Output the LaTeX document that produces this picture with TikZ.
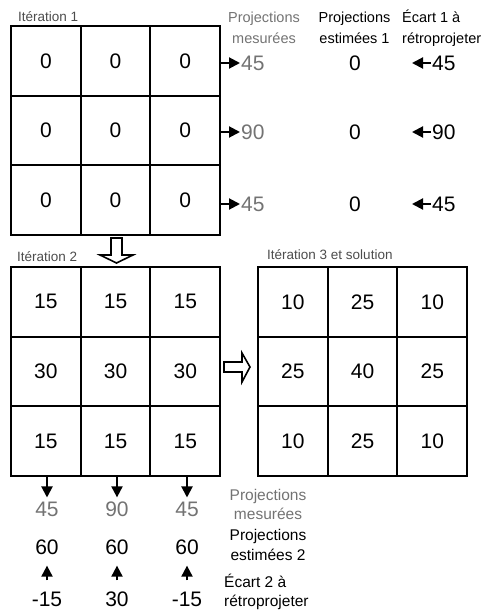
\documentclass[tikz,border=0pt]{standalone}
\usepackage{fontspec}
\setmainfont{Liberation Sans}
\usetikzlibrary{arrows.meta}

\begin{document}
\begin{tikzpicture}[x=1pt, y=-1pt,
  cell/.style={draw, line width=2pt, minimum size=69.7pt, inner sep=0pt, font=\fontsize{21}{24}\selectfont},
  val/.style={inner sep=1pt, font=\fontsize{21}{24}\selectfont},
  meas/.style={val, text=black!55},
  head/.style={inner sep=0pt, align=center, font=\fontsize{14.5}{21}\selectfont},
  headlow/.style={head, font=\fontsize{15.5}{19.5}\selectfont},
  iter/.style={anchor=west, inner sep=0pt, text=black!70, font=\fontsize{13.5}{16}\selectfont},
  tip/.style={-{Triangle[length=11pt,width=11pt]}, line width=2pt},
  bigarrow/.style={draw, line width=1.6pt, fill=white, line join=miter}]
  \useasboundingbox (0,0) rectangle (497,612);

  % iteration 1
  \node[iter] (it1) at (18,17) {Itération 1};
  \foreach \r in {1,2,3}
    \foreach \c in {1,2,3}
      \node[cell] (a\r\c) at (11+69.7*\c-34.85, 26+69.7*\r-34.85) {0};

  \node[head, text=black!55] (hm1) at (264,28) {Projections\\mesurées};
  \node[head] (he1) at (354.5,28) {Projections\\estimées 1};
  \node[head, anchor=west, align=left] (hd1) at (402,28) {Écart 1 à\\rétroprojeter};

  \foreach \v/\y [count=\r] in {45/63, 90/132, 45/204} {
    \node[meas, anchor=west] (m\r) at (240,\y) {\v};
    \node[val] (e\r) at (355,\y) {0};
    \node[val, anchor=west] (d\r) at (431,\y) {\v};
    \draw[tip] (a\r3.east |- m\r) -- (m\r.west);
    \draw[tip] (d\r.west) -- ++(-19,0);
  }

  \draw[bigarrow] (111,238) -- (122,238) -- (122,255) -- (133,255) -- (116.5,263)
    -- (100,255) -- (111,255) -- cycle;

  % iteration 2
  \node[iter] (it2) at (17,257) {Itération 2};
  \foreach \v [count=\r] in {15,30,15}
    \foreach \c in {1,2,3}
      \node[cell] (b\r\c) at (11+69.7*\c-34.85, 267+69.7*\r-34.85) {\v};

  \foreach \m/\e/\d/\x [count=\c] in {45/60/-15/47, 90/60/30/117, 45/60/-15/187} {
    \node[meas] (n\c) at (\x,509) {\m};
    \node[val] (f\c) at (\x,547) {\e};
    \node[val] (g\c) at (\x,599) {\d};
    \draw[tip, shorten >=3pt] (b3\c.south -| n\c) -- (n\c.north);
    \draw[tip, shorten <=10pt, shorten >=10pt] (g\c.north) -- (f\c.south);
  }

  \node[headlow, text=black!55] (hm2) at (268,504.5) {Projections\\mesurées};
  \node[headlow] (he2) at (268,545) {Projections\\estimées 2};
  \node[headlow, anchor=west, align=left] (hd2) at (224,592) {Écart 2 à\\rétroprojeter};

  \draw[bigarrow] (224,362) -- (242,362) -- (242,353) -- (250,367) -- (242,382)
    -- (242,372) -- (224,372) -- cycle;

  % iteration 3
  \node[iter] (it3) at (267,255) {Itération 3 et solution};
  \foreach \row [count=\r] in {{10,25,10},{25,40,25},{10,25,10}}
    \foreach \v [count=\c] in \row
      \node[cell] (c\r\c) at (258+69.7*\c-34.85, 267+69.7*\r-34.85) {\v};
\end{tikzpicture}
\end{document}
